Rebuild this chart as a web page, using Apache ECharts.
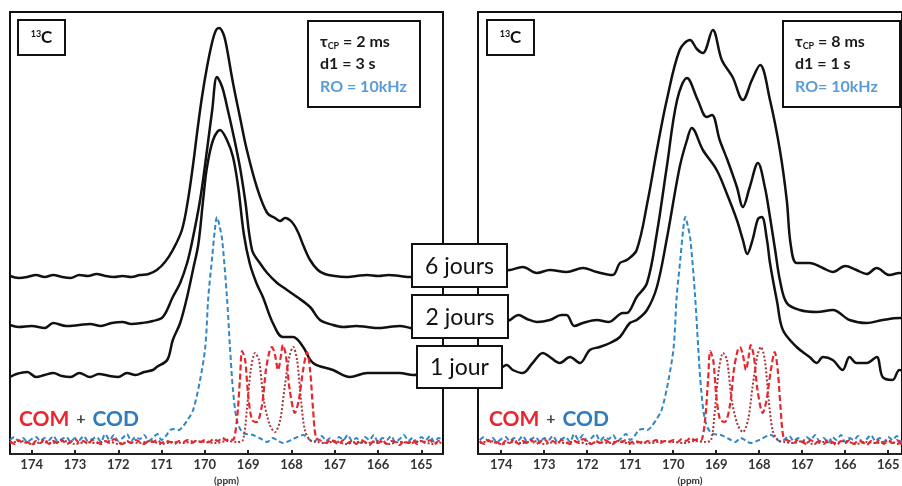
<!DOCTYPE html>
<html><head><meta charset="utf-8">
<script src="https://cdn.jsdelivr.net/npm/echarts@6/dist/echarts.min.js"></script>
<style>html,body{margin:0;padding:0;background:#fff}#c{width:902px;height:486px}</style>
</head><body><div id="c"></div>
<script>
// ppm tick labels
const ppmTicks = [165,166,167,168,169,170,171,172,173,174];
const dayLabels = ['6 jours','2 jours','1 jour'];
const panelParams = [
  {tcp:'2 ms', d1:'3 s', ro:'RO = 10kHz'},
  {tcp:'8 ms', d1:'1 s', ro:'RO= 10kHz'}
];
// Panel 1 (tCP = 2 ms) spectra: [ppm, intensity a.u.]
const left6j = [[174.5,178],[174.3,176],[174.1,177],[173.9,179],[173.7,177],[173.5,179],[173.3,177],[173.1,176],[172.9,179],[172.7,178],[172.5,180],[172.3,178],[172.1,177],[171.9,178],[171.7,177],[171.5,179],[171.3,180],[171.11,184],[170.92,192],[170.74,204],[170.53,224],[170.39,254],[170.27,290],[170.18,321],[170.07,356],[169.95,387],[169.83,412],[169.74,424],[169.67,426],[169.58,421],[169.51,410],[169.35,371],[169.19,337],[169.03,304],[168.80,267],[168.56,241],[168.38,236],[168.26,233],[168.15,236],[167.99,232],[167.85,222],[167.73,209],[167.57,194],[167.39,184],[167.23,180],[167.0,178],[166.75,177],[166.5,178],[166.25,179],[166.0,178],[165.75,179],[165.5,178],[165.25,177],[165.0,178],[164.75,179],[164.5,178]];
const left2j = [[174.5,129],[174.3,127],[174.0,128],[173.7,126],[173.5,131],[173.2,128],[172.9,129],[172.65,130],[172.4,128],[172.15,131],[171.9,132],[171.7,130],[171.45,131],[171.2,133],[170.97,137],[170.74,157],[170.57,171],[170.41,191],[170.30,211],[170.11,254],[169.95,304],[169.83,344],[169.72,377],[169.60,367],[169.47,344],[169.35,321],[169.19,287],[169.07,254],[168.91,204],[168.73,191],[168.56,181],[168.33,171],[168.20,167],[167.87,157],[167.57,147],[167.34,134],[167.04,129],[166.8,127],[166.5,128],[166.25,127],[166.0,126],[165.75,127],[165.5,128],[165.25,126],[165.0,124],[164.75,127],[164.5,128]];
const left1j = [[174.5,77],[174.35,80],[174.1,82],[173.9,77],[173.7,79],[173.5,81],[173.3,78],[173.1,77],[172.9,81],[172.65,77],[172.45,80],[172.2,78],[172.0,77],[171.8,81],[171.6,79],[171.4,82],[171.2,84],[171.11,87],[170.87,94],[170.74,114],[170.57,131],[170.41,157],[170.27,185],[170.15,210],[170.04,254],[169.95,287],[169.81,314],[169.65,324],[169.49,314],[169.35,297],[169.23,267],[169.10,220],[168.96,190],[168.80,170],[168.66,157],[168.43,131],[168.20,117],[167.96,117],[167.73,107],[167.50,91],[167.04,84],[166.65,77],[166.25,81],[165.9,81],[165.5,81],[165.19,79],[164.85,80],[164.5,79]];
// Panel 2 (tCP = 8 ms) spectra
const right6j = [[174.54,184],[174.3,186],[174.05,183],[173.8,184],[173.5,187],[173.17,181],[172.87,184],[172.48,182],[172.1,186],[171.78,182],[171.41,179],[171.24,191],[171.08,194],[170.85,204],[170.59,254],[170.38,304],[170.15,354],[169.85,404],[169.61,414],[169.45,405],[169.31,401],[169.08,424],[168.87,394],[168.62,377],[168.38,354],[168.17,374],[167.98,389],[167.75,354],[167.52,304],[167.36,254],[167.27,210],[167.13,191],[166.83,191],[166.52,186],[166.29,182],[166.0,188],[165.74,184],[165.5,180],[165.27,186],[164.97,179],[164.74,181],[164.55,180]];
const right2j = [[174.54,132],[174.3,134],[174.03,131],[173.8,134],[173.6,139],[173.4,135],[173.17,132],[172.87,134],[172.6,139],[172.48,139],[172.3,128],[172.1,131],[171.78,134],[171.5,132],[171.17,141],[171.08,141],[170.85,157],[170.61,171],[170.38,221],[170.15,287],[169.91,354],[169.68,376],[169.43,354],[169.22,337],[169.10,339],[168.92,314],[168.74,294],[168.52,267],[168.38,247],[168.22,267],[168.03,291],[167.87,267],[167.75,237],[167.63,204],[167.52,174],[167.36,151],[167.06,144],[166.66,142],[166.29,144],[165.90,134],[165.50,131],[165.13,134],[164.74,136],[164.55,136]];
const right1j = [[174.54,85],[174.2,80],[173.87,89],[173.73,84],[173.50,81],[173.27,91],[173.03,101],[172.87,97],[172.64,91],[172.40,97],[172.17,91],[171.94,104],[171.71,107],[171.47,111],[171.24,117],[171.01,131],[170.85,134],[170.61,144],[170.38,167],[170.15,215],[169.85,287],[169.68,314],[169.57,326],[169.31,304],[168.99,284],[168.76,261],[168.52,234],[168.38,214],[168.28,200],[168.15,215],[168.03,235],[167.94,237],[167.82,214],[167.75,191],[167.58,151],[167.45,124],[167.13,107],[166.83,97],[166.66,91],[166.52,97],[166.29,94],[166.06,84],[165.90,97],[165.74,91],[165.50,91],[165.27,97],[165.13,77],[164.90,74],[164.74,84],[164.55,80]];
// Reference spectra (same in both panels)
const codRef = [[174.5,14],[174.4,17],[174.3,13],[174.2,16],[174.1,12],[174.0,15],[173.9,17],[173.8,13],[173.7,16],[173.6,14],[173.5,18],[173.4,13],[173.3,15],[173.2,17],[173.1,12],[173.0,16],[172.9,14],[172.8,18],[172.7,13],[172.6,15],[172.5,17],[172.4,12],[172.3,20],[172.2,14],[172.1,19],[172.0,13],[171.9,16],[171.8,20],[171.7,13],[171.6,17],[171.5,15],[171.4,19],[171.3,13],[171.2,16],[171.1,20],[171.0,14],[170.9,18],[170.8,24],[170.7,25],[170.6,24],[170.5,28],[170.4,34],[170.27,44],[170.11,74],[169.99,107],[169.92,157],[169.83,197],[169.77,224],[169.72,237],[169.66,228],[169.60,214],[169.49,157],[169.42,107],[169.35,64],[169.26,34],[169.12,21],[168.89,19],[168.7,15],[168.56,12],[168.43,16],[168.3,13],[168.20,11],[168.0,14],[167.73,19],[167.6,15],[167.50,12],[167.4,15],[167.3,18],[167.2,13],[167.1,16],[167.0,12],[166.9,17],[166.8,14],[166.7,19],[166.6,13],[166.5,16],[166.4,11],[166.3,17],[166.2,14],[166.1,19],[166.0,12],[165.9,16],[165.8,14],[165.7,18],[165.6,12],[165.5,15],[165.4,19],[165.3,13],[165.2,16],[165.1,12],[165.0,17],[164.9,14],[164.8,18],[164.7,12],[164.6,16],[164.5,14]];
const comRefA = [[174.5,13],[174.4,10],[174.3,14],[174.2,11],[174.1,12],[174.0,9],[173.9,13],[173.8,11],[173.7,15],[173.6,10],[173.5,13],[173.4,11],[173.3,14],[173.2,10],[173.1,12],[173.0,15],[172.9,11],[172.8,13],[172.7,10],[172.6,14],[172.5,12],[172.4,10],[172.3,13],[172.2,11],[172.1,15],[172.0,12],[171.9,10],[171.8,13],[171.7,11],[171.6,14],[171.5,12],[171.4,10],[171.3,13],[171.2,12],[171.1,14],[171.0,11],[170.9,13],[170.8,12],[170.7,10],[170.6,13],[170.5,12],[170.4,14],[170.3,11],[170.2,13],[170.1,12],[170.0,14],[169.9,12],[169.8,15],[169.7,13],[169.6,16],[169.5,14],[169.42,15],[169.35,14],[169.26,34],[169.19,74],[169.14,103],[169.07,94],[169.0,59],[168.91,34],[168.80,32],[168.68,49],[168.59,84],[168.50,104],[168.45,107],[168.38,99],[168.31,84],[168.24,99],[168.20,109],[168.13,99],[168.04,64],[167.92,41],[167.83,54],[167.73,84],[167.64,102],[167.57,84],[167.50,44],[167.43,16],[167.3,13],[167.2,11],[167.1,14],[167.0,12],[166.9,10],[166.8,14],[166.7,11],[166.6,13],[166.5,10],[166.4,14],[166.3,12],[166.2,9],[166.1,13],[166.0,11],[165.9,14],[165.8,10],[165.7,13],[165.6,12],[165.5,9],[165.4,13],[165.3,11],[165.2,14],[165.1,10],[165.0,13],[164.9,11],[164.8,14],[164.7,10],[164.6,13],[164.5,12]];
const comRefB = [[174.5,11],[174.25,13],[174.0,10],[173.75,12],[173.5,11],[173.25,13],[173.0,10],[172.75,12],[172.5,11],[172.25,13],[172.0,10],[171.75,12],[171.5,11],[171.25,13],[171.0,10],[170.75,12],[170.5,11],[170.25,13],[170.0,12],[169.75,11],[169.5,13],[169.25,12],[169.12,14],[169.03,44],[168.94,84],[168.84,101],[168.75,94],[168.64,54],[168.50,29],[168.38,22],[168.26,34],[168.15,69],[168.04,99],[167.96,107],[167.87,94],[167.78,54],[167.69,24],[167.57,14],[167.4,12],[167.2,11],[167.0,13],[166.75,10],[166.5,12],[166.25,11],[166.0,13],[165.75,10],[165.5,12],[165.25,11],[165.0,13],[164.75,10],[164.5,12]];

const FONT = 'Lato, "Open Sans", sans-serif';
const chart = echarts.init(document.getElementById('c'), null, {renderer:'canvas'});
function xAx(gi, lo, hi){
  return {gridIndex:gi, type:'value', min:lo, max:hi, inverse:true,
    name:'(ppm)', nameLocation:'middle', nameGap:18,
    nameTextStyle:{fontSize:10, fontWeight:'bold', color:'#333', fontFamily:FONT},
    axisLine:{show:true, onZero:false, lineStyle:{color:'#222', width:2}},
    axisTick:{show:true, inside:true, length:4, customValues:ppmTicks, lineStyle:{color:'#222', width:2}},
    axisLabel:{customValues:ppmTicks, fontSize:13, fontWeight:'bold', color:'#333', margin:4, fontFamily:FONT},
    splitLine:{show:false}};
}
function yAx(gi){ return {gridIndex:gi, type:'value', min:0, max:442, show:false}; }
function ln(gi, data, color, width, type, smooth){
  return {type:'line', xAxisIndex:gi, yAxisIndex:gi, data:data, showSymbol:false, smooth:smooth,
    lineStyle:{color:color, width:width, type:type}, silent:true, z:3};
}
const BLUE = '#2f86c8', RED = '#e8262d', DRED = '#a8343a';
const series = [];
[[left6j,left2j,left1j],[right6j,right2j,right1j]].forEach((set,gi)=>{
  set.forEach(d=>series.push(ln(gi,d,'#111',2.5,'solid',0.35)));
  series.push(ln(gi,codRef,BLUE,2,[5,3],0.3));
  series.push(ln(gi,comRefB,DRED,2,[2,2],0.3));
  series.push(ln(gi,comRefA,RED,2.2,[6,3],0.3));
});

function box(x,y,w,h){ return {type:'rect', shape:{x:x,y:y,width:w,height:h}, style:{fill:'#fff', stroke:'#111', lineWidth:2}, z:10}; }
function txt(x,y,text,rich,align){
  return {type:'text', x:x, y:y, z:11, style:{text:text, rich:rich, align:align||'left', verticalAlign:'middle', fontFamily:FONT}};
}
const paramRich = {
  a:{fontSize:16, fontWeight:'bold', fill:'#1a1a1a', fontFamily:FONT},
  s:{fontSize:9, fontWeight:'bold', fill:'#1a1a1a', fontFamily:FONT, padding:[9,0,0,0]},
  b:{fontSize:16, fontWeight:'bold', fill:'#5b9bd5', fontFamily:FONT}
};
const cRich = {
  sup:{fontSize:9, fontWeight:'bold', fill:'#111', fontFamily:FONT, padding:[0,0,7,0]},
  c:{fontSize:17, fontWeight:'bold', fill:'#111', fontFamily:FONT}
};
const legRich = {
  r:{fontSize:21, fontWeight:'bold', fill:RED, fontFamily:FONT},
  p:{fontSize:16, fontWeight:'bold', fill:'#444', fontFamily:FONT, padding:[0,3,0,3]},
  b:{fontSize:21, fontWeight:'bold', fill:'#2e7cc0', fontFamily:FONT}
};
const dayRich = {d:{fontSize:23, fill:'#111', fontFamily:FONT}};
const graphics = [];
const panels = [{x0:18, px:308, pw:112, lx:19},{x0:487, px:783, pw:117, lx:489}];
panels.forEach((p,i)=>{
  graphics.push(box(p.x0,20,47,35));
  graphics.push(txt(p.x0+23.5,38,'{sup|13}{c|C}',cRich,'center'));
  graphics.push(box(p.px,21,p.pw,86));
  const pp = panelParams[i];
  graphics.push(txt(p.px+12,42,'{a|τ}{s|CP}{a| = '+pp.tcp+'}',paramRich));
  graphics.push(txt(p.px+12,64,'{a|d1 = '+pp.d1+'}',paramRich));
  graphics.push(txt(p.px+12,87,'{b|'+pp.ro+'}',paramRich));
  graphics.push(txt(p.lx,419,'{r|COM}{p| + }{b|COD}',legRich));
});
const dayBoxes = [[412,244,95,43],[412,295,96,43],[417,346,85,42]];
dayBoxes.forEach((b,i)=>{
  graphics.push(box(b[0],b[1],b[2],b[3]));
  graphics.push(txt(b[0]+b[2]/2,b[1]+b[3]/2+1,'{d|'+dayLabels[i]+'}',dayRich,'center'));
});

chart.setOption({
  animation:false,
  backgroundColor:'#fff',
  grid:[
    {left:10, top:12, width:433, height:442, show:true, borderColor:'#111', borderWidth:2, backgroundColor:'#fff', containLabel:false, outerBoundsMode:'none'},
    {left:478, top:12, width:424, height:442, show:true, borderColor:'#111', borderWidth:2, backgroundColor:'#fff', containLabel:false, outerBoundsMode:'none'}
  ],
  xAxis:[xAx(0,164.5,174.5), xAx(1,164.68,174.54)],
  yAxis:[yAx(0), yAx(1)],
  series:series,
  graphic:graphics
});
</script></body></html>
